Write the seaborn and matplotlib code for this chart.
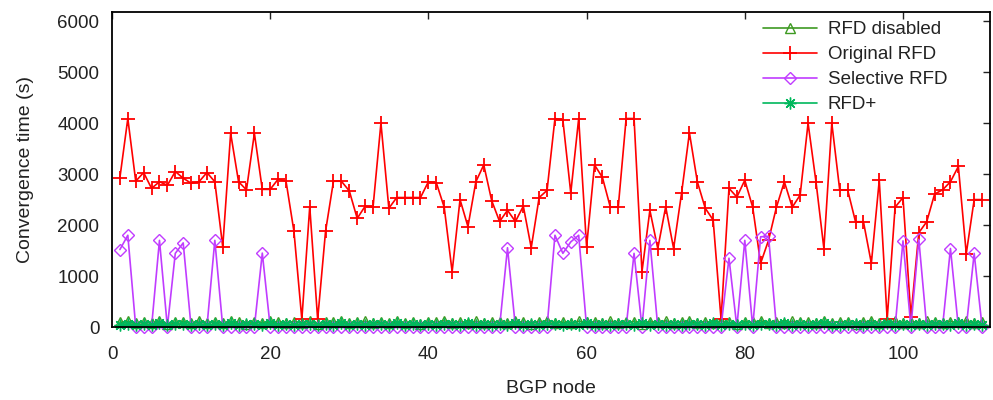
import matplotlib
matplotlib.use("Agg")
import matplotlib.pyplot as plt
import seaborn as sns
import pandas as pd

# ---- data ----
nodes = list(range(1, 111))

original_rfd = [
    2930, 4090, 2860, 3030, 2720, 2850, 2780, 3050, 2920, 2820,
    2850, 3030, 2850, 1575, 3800, 2850, 2690, 3800, 2700, 2700,
    2900, 2860, 1880, 150, 2360, 150, 1880, 2860, 2860, 2670,
    2130, 2370, 2350, 4000, 2330, 2540, 2540, 2540, 2540, 2850,
    2830, 2350, 1085, 2500, 1970, 2850, 3180, 2480, 2070, 2290,
    2070, 2370, 1555, 2540, 2680, 4090, 4060, 2630, 4090, 1575,
    3180, 2935, 2350, 2350, 4090, 4090, 1085, 2290, 1540, 2360,
    1540, 2620, 3810, 2850, 2330, 2100, 150, 2720, 2550, 2880,
    2350, 1250, 1700, 2350, 2850, 2350, 2590, 4000, 2850, 1540,
    4000, 2690, 2690, 2065, 2065, 1250, 2880, 150, 2350, 2540,
    200, 1850, 2065, 2610, 2690, 2850, 3150, 1440, 2500, 2500,
]

selective_rfd = [
    1520, 1800, 0, 0, 0, 1700, 0, 1445, 1650, 0,
    0, 0, 1700, 0, 0, 0, 0, 0, 1450, 0,
    0, 0, 0, 0, 0, 0, 0, 0, 0, 0,
    0, 0, 0, 0, 0, 0, 0, 0, 0, 0,
    0, 0, 0, 0, 0, 0, 0, 0, 0, 1555,
    0, 0, 0, 0, 0, 1800, 1445, 1670, 1800, 0,
    0, 0, 0, 0, 0, 1445, 0, 1700, 0, 0,
    0, 0, 0, 0, 0, 0, 0, 1350, 0, 1700,
    0, 1770, 1780, 0, 0, 0, 0, 0, 0, 0,
    0, 0, 0, 0, 0, 0, 0, 0, 0, 1690,
    0, 1720, 0, 0, 0, 1540, 0, 0, 1445, 0,
]

rfd_disabled = [
    90, 110, 70, 100, 80, 120, 60, 95, 105, 75,
    110, 85, 100, 70, 115, 90, 60, 100, 80, 120,
    95, 70, 105, 85, 110, 65, 100, 90, 120, 75,
    95, 110, 80, 100, 70, 115, 85, 95, 60, 105,
    90, 120, 75, 100, 85, 110, 70, 95, 105, 80,
    115, 90, 65, 100, 120, 85, 95, 75, 110, 90,
    100, 70, 115, 85, 95, 105, 60, 100, 90, 120,
    80, 95, 110, 70, 100, 85, 115, 90, 65, 105,
    95, 120, 80, 100, 75, 110, 90, 95, 70, 115,
    85, 100, 105, 60, 95, 120, 80, 90, 110, 75,
    100, 85, 115, 95, 70, 105, 90, 120, 80, 100,
]

rfd_plus = [
    40, 60, 30, 55, 45, 70, 35, 50, 65, 40,
    55, 30, 60, 45, 75, 35, 50, 60, 40, 70,
    45, 55, 35, 65, 50, 30, 60, 40, 75, 45,
    55, 35, 65, 50, 40, 70, 30, 60, 45, 55,
    35, 65, 50, 40, 70, 45, 60, 30, 55, 40,
    75, 45, 50, 35, 65, 55, 40, 60, 30, 70,
    45, 55, 35, 65, 50, 40, 75, 45, 60, 30,
    55, 40, 65, 50, 35, 70, 45, 60, 40, 55,
    30, 65, 50, 45, 70, 35, 60, 40, 55, 75,
    45, 30, 65, 50, 40, 60, 35, 70, 45, 55,
    40, 65, 30, 60, 50, 45, 70, 35, 55, 40,
]

series_labels = ["RFD disabled", "Original RFD", "Selective RFD", "RFD+"]
x_ticks = [0, 20, 40, 60, 80, 100]
y_ticks = [0, 1000, 2000, 3000, 4000, 5000, 6000]

df = pd.DataFrame({
    "node": nodes,
    "RFD disabled": rfd_disabled,
    "Original RFD": original_rfd,
    "Selective RFD": selective_rfd,
    "RFD+": rfd_plus,
})

# ---- style ----
sns.set_style("white")
plt.rcParams["font.family"] = ["Liberation Sans", "DejaVu Sans"]

fig = plt.figure(figsize=(9.93, 4.0), dpi=100)
ax = fig.add_axes([112 / 993, 1 - 327 / 400, (990 - 112) / 993, (327 - 12) / 400])

colors = {
    "RFD disabled": "#3E9A22",
    "Original RFD": "#FF0000",
    "Selective RFD": "#C03CFF",
    "RFD+": "#00B85C",
}
styles = {
    "RFD disabled": dict(marker="^", markersize=7.5, markerfacecolor="none",
                         markeredgewidth=1.0),
    "Original RFD": dict(marker="+", markersize=10, markeredgewidth=1.3),
    "Selective RFD": dict(marker="D", markersize=6, markerfacecolor="none",
                          markeredgewidth=1.0),
    "RFD+": dict(marker=(8, 2, 0), markersize=8.5, markeredgewidth=1.0),
}

for name in series_labels:
    c = colors[name]
    sns.lineplot(data=df, x="node", y=name, ax=ax, label=name,
                 color=c, markeredgecolor=c, linewidth=1.2, clip_on=False,
                 **styles[name])

ax.set_xlim(0, 111)
ax.set_ylim(0, 6180)
ax.set_xticks(x_ticks)
ax.set_yticks(y_ticks)
ax.tick_params(axis="both", direction="in", length=5, width=1,
               top=True, right=True, labelsize=13.5, colors="#222222")
ax.tick_params(axis="x", pad=14)
ax.tick_params(axis="y", pad=9)
for lbl in ax.get_xticklabels() + ax.get_yticklabels():
    lbl.set_color("#222222")

for sp in ax.spines.values():
    sp.set_visible(True)
    sp.set_color("black")
    sp.set_linewidth(1.3)

ax.set_xlabel("BGP node", fontsize=14, color="#222222", labelpad=12)
ax.set_ylabel("Convergence time (s)", fontsize=14, color="#222222", labelpad=17)

handles, labels = ax.get_legend_handles_labels()
leg = ax.legend(handles, labels, loc="upper left",
                bbox_to_anchor=(763 / 993, 1 - 21 / 400),
                bbox_transform=fig.transFigure,
                frameon=False, fontsize=13.5, handlelength=2.9,
                handletextpad=0.55, labelspacing=0.42, borderpad=0,
                borderaxespad=0, numpoints=1)
for t in leg.get_texts():
    t.set_color("#222222")

fig.savefig("out.png", dpi=100)
